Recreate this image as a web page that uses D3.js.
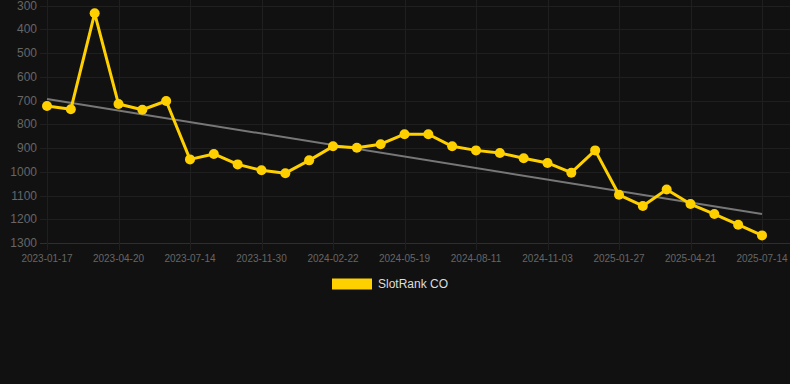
<!DOCTYPE html>
<html>
<head>
<meta charset="utf-8">
<script src="https://cdn.jsdelivr.net/npm/d3@7"></script>
<style>
  html, body { margin: 0; padding: 0; background: #111111; }
  svg { display: block; font-family: 'Liberation Sans', Arial, sans-serif; }
</style>
</head>
<body>
<svg id="chart" width="790" height="384"></svg>
<script>
const dates = [
  '2023-01-17', '2023-02-18', '2023-03-20', '2023-04-20', '2023-05-18', '2023-06-15',
  '2023-07-14', '2023-08-30', '2023-10-15', '2023-11-30', '2023-12-28', '2024-01-25',
  '2024-02-22', '2024-03-21', '2024-04-20', '2024-05-19', '2024-06-16', '2024-07-14',
  '2024-08-11', '2024-09-08', '2024-10-06', '2024-11-03', '2024-12-01', '2024-12-30',
  '2025-01-27', '2025-02-22', '2025-03-22', '2025-04-21', '2025-05-19', '2025-06-16',
  '2025-07-14',
];
const rank = [
  723, 737, 333, 715, 739, 702, 948, 925, 969, 994, 1006, 952,
  893, 899, 884, 842, 842, 893, 910, 921, 943, 963, 1004, 910,
  1097, 1144, 1075, 1136, 1178, 1223, 1268,
];
const trend = [694, 1178]; // first and last date
const yTicks = [300, 400, 500, 600, 700, 800, 900, 1000, 1100, 1200, 1300];
const seriesName = 'SlotRank CO';

const yellow = '#ffd000';
const svg = d3.select('#chart');

const x = d3.scalePoint().domain(dates).range([47, 762]);
const y = d3.scaleLinear().domain([300, 1300]).range([5.5, 243]);

const grid = svg.append('g');

// horizontal grid
grid.selectAll('.hg')
  .data(yTicks)
  .join('line')
  .attr('x1', 40).attr('x2', 790)
  .attr('y1', (d) => Math.round(y(d)) + 0.5)
  .attr('y2', (d) => Math.round(y(d)) + 0.5)
  .attr('stroke', (d) => (d === 1300 ? '#2e2e2e' : '#1f1f1f'));

const shown = dates.filter((d, i) => i % 3 === 0);

// vertical grid
grid.selectAll('.vg')
  .data(shown)
  .join('line')
  .attr('x1', (d) => Math.round(x(d)) + 0.5)
  .attr('x2', (d) => Math.round(x(d)) + 0.5)
  .attr('y1', 0).attr('y2', 250)
  .attr('stroke', '#1f1f1f');

// y labels
svg.append('g')
  .selectAll('text')
  .data(yTicks)
  .join('text')
  .attr('x', 37)
  .attr('y', (d) => y(d))
  .attr('dy', '0.35em')
  .attr('text-anchor', 'end')
  .attr('font-size', 12)
  .attr('fill', '#666')
  .text((d) => d);

// x labels
svg.append('g')
  .selectAll('text')
  .data(shown)
  .join('text')
  .attr('x', (d) => x(d))
  .attr('y', 262)
  .attr('text-anchor', 'middle')
  .attr('font-size', 10)
  .attr('fill', '#666')
  .text((d) => d);

// trend line
svg.append('line')
  .attr('x1', x(dates[0]))
  .attr('y1', y(trend[0]))
  .attr('x2', x(dates[dates.length - 1]))
  .attr('y2', y(trend[1]))
  .attr('stroke', '#777')
  .attr('stroke-width', 2);

const line = d3.line()
  .x((d, i) => x(dates[i]))
  .y((d) => y(d));

svg.append('path')
  .datum(rank)
  .attr('d', line)
  .attr('fill', 'none')
  .attr('stroke', yellow)
  .attr('stroke-width', 3)
  .attr('stroke-linejoin', 'round');

svg.append('g')
  .selectAll('circle')
  .data(rank)
  .join('circle')
  .attr('cx', (d, i) => x(dates[i]))
  .attr('cy', (d) => y(d))
  .attr('r', 5)
  .attr('fill', yellow);

// legend
const legend = svg.append('g');
legend.append('rect')
  .attr('x', 332).attr('y', 278.5)
  .attr('width', 40).attr('height', 11)
  .attr('fill', yellow);
legend.append('text')
  .attr('x', 378).attr('y', 284)
  .attr('dy', '0.35em')
  .attr('font-size', 12)
  .attr('fill', '#ddd')
  .text(seriesName);
</script>
</body>
</html>
